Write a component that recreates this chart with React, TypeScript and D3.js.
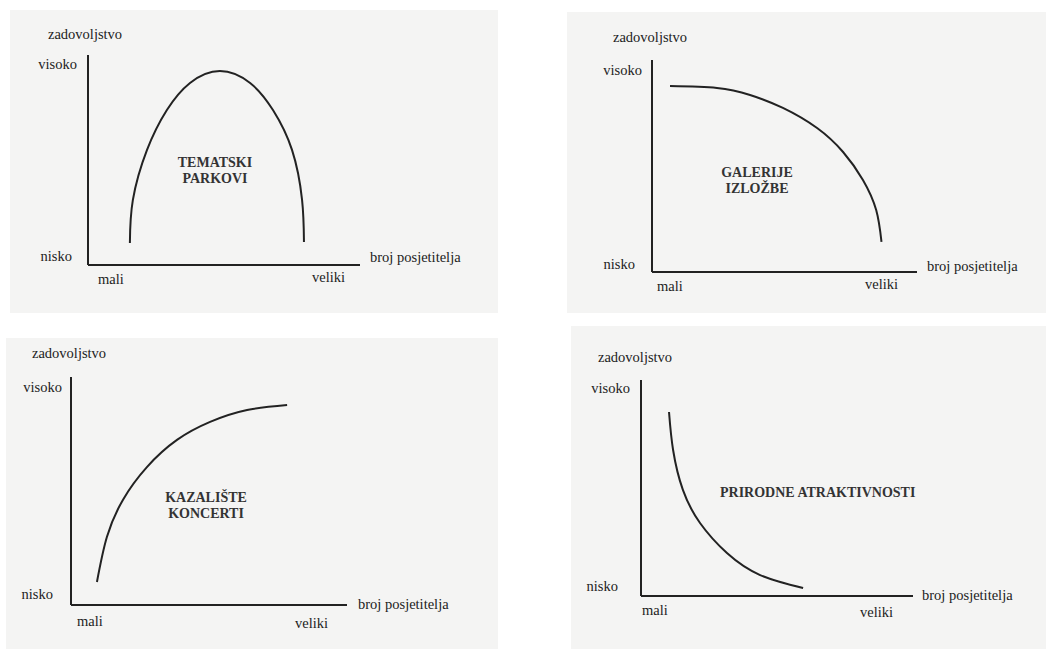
import React from 'react';
import * as d3 from 'd3';

// curves, in axis units: x 0 (mali) .. 100 (end of axis), y 0 (nisko) .. 100 (top of axis)
const tematskiParkovi: [number, number][] = [
  [15.4, 10.5], [16.5, 31], [21.7, 54.8], [29, 73.8], [37.5, 86.7], [48.5, 92.4],
  [59.6, 86.7], [68, 73.8], [75, 54.8], [78.7, 31], [79.4, 11],
];
const galerijeIzlozbe: [number, number][] = [
  [6.8, 87.7], [24.5, 86.8], [37, 83.5], [49.4, 77.4], [62.3, 67.9], [72.1, 56.6], [79.6, 43.4], [84.6, 29.2], [86.6, 14.2],
];
const kazalisteKoncerti: [number, number][] = [
  [9.4, 10.1], [13, 29.8], [18.8, 46.1], [27.5, 60.5], [38.4, 72.4], [50.4, 80.3], [63.8, 85.5], [78.3, 87.7],
];
const prirodneAtraktivnosti: [number, number][] = [
  [10.3, 85.2], [11.8, 67.6], [15.4, 49.1], [21.7, 33.8], [31.6, 19.9], [43.8, 9.7], [59.6, 3.7],
];

const yTitle = 'zadovoljstvo';
const xTitle = 'broj posjetitelja';
const yTicks = ['visoko', 'nisko'];
const xTicks = ['mali', 'veliki'];

const panels = [
  { data: tematskiParkovi, title: ['TEMATSKI', 'PARKOVI'], x0: 88, x1: 360, y0: 265, yTop: 55,
    bg: [10, 10, 488, 303], tx: 215, ty: 167, anchor: 'middle',
    lab: { zx: 48, zy: 39, vx: 77, vy: 69, nx: 72, ny: 261, bx: 370, by: 262, mx: 98, my: 284, wx: 312, wy: 282 } },
  { data: galerijeIzlozbe, title: ['GALERIJE', 'IZLOŽBE'], x0: 652, x1: 917, y0: 272, yTop: 60,
    bg: [567, 12, 479, 301], tx: 757, ty: 177, anchor: 'middle',
    lab: { zx: 613, zy: 42, vx: 642, vy: 75, nx: 635, ny: 269, bx: 927, by: 271, mx: 657, my: 291, wx: 865, wy: 289 } },
  { data: kazalisteKoncerti, title: ['KAZALIŠTE', 'KONCERTI'], x0: 71, x1: 347, y0: 605, yTop: 377,
    bg: [6, 338, 492, 311], tx: 206, ty: 502, anchor: 'middle',
    lab: { zx: 32, zy: 358, vx: 62, vy: 392, nx: 53, ny: 599, bx: 358, by: 609, mx: 77, my: 626, wx: 295, wy: 628 } },
  { data: prirodneAtraktivnosti, title: ['PRIRODNE ATRAKTIVNOSTI'], x0: 641, x1: 913, y0: 596, yTop: 380,
    bg: [571, 326, 475, 323], tx: 720, ty: 497, anchor: 'start',
    lab: { zx: 598, zy: 362, vx: 630, vy: 393, nx: 618, ny: 591, bx: 922, by: 600, mx: 642, my: 615, wx: 860, wy: 617 } },
];

const ink = '#222';

function Panel({ p }: any) {
  const x = d3.scaleLinear().domain([0, 100]).range([p.x0, p.x1]);
  const y = d3.scaleLinear().domain([0, 100]).range([p.y0, p.yTop]);
  const line = d3
    .line<[number, number]>()
    .x((d) => x(d[0]))
    .y((d) => y(d[1]))
    .curve(d3.curveNatural);
  const L = p.lab;
  const txt = { fontSize: 14.5, fill: ink };
  return (
    <g>
      <rect x={p.bg[0]} y={p.bg[1]} width={p.bg[2]} height={p.bg[3]} fill="#f4f4f3" />
      <line x1={x(0)} x2={x(0)} y1={y(0)} y2={y(100)} stroke={ink} strokeWidth={2} />
      <line x1={x(0)} x2={x(100)} y1={y(0)} y2={y(0)} stroke={ink} strokeWidth={2} />
      <path d={line(p.data) || ''} fill="none" stroke={ink} strokeWidth={2} />
      <text x={L.zx} y={L.zy} {...txt}>{yTitle}</text>
      <text x={L.vx} y={L.vy} textAnchor="end" {...txt}>{yTicks[0]}</text>
      <text x={L.nx} y={L.ny} textAnchor="end" {...txt}>{yTicks[1]}</text>
      <text x={L.bx} y={L.by} {...txt}>{xTitle}</text>
      <text x={L.mx} y={L.my} {...txt}>{xTicks[0]}</text>
      <text x={L.wx} y={L.wy} {...txt}>{xTicks[1]}</text>
      {p.title.map((t: string, i: number) => (
        <text key={t} x={p.tx} y={p.ty + i * 15.5} textAnchor={p.anchor} fontWeight="bold"
          fontSize={14} fill="#333">
          {t}
        </text>
      ))}
    </g>
  );
}

export default function App() {
  return (
    <svg width={1046} height={649} fontFamily="Liberation Serif"
      style={{ position: 'absolute', left: 0, top: 0, background: '#fff' }}>
      {panels.map((p, i) => (
        <Panel key={i} p={p} />
      ))}
    </svg>
  );
}
